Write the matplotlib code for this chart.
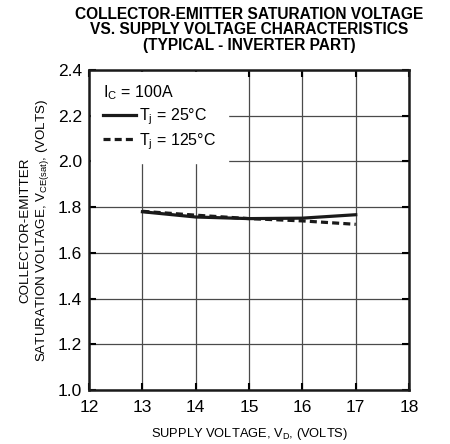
import numpy as np
import matplotlib.pyplot as plt

plt.rcParams['font.family'] = ['Liberation Sans', 'DejaVu Sans']
plt.rcParams['mathtext.fontset'] = 'custom'
plt.rcParams['mathtext.rm'] = 'Liberation Sans'
plt.rcParams['mathtext.it'] = 'Liberation Sans'

# supply voltage (V) and Vce(sat)
vd = [13, 14, 15, 16, 17]
vce_25 = [1.780, 1.757, 1.750, 1.752, 1.767]
vce_125 = [1.782, 1.765, 1.750, 1.740, 1.725]

x_ticks = [12, 13, 14, 15, 16, 17, 18]
y_ticks = [1.0, 1.2, 1.4, 1.6, 1.8, 2.0, 2.2, 2.4]

fig = plt.figure(figsize=(4.5, 4.44), dpi=100)
ax = fig.add_axes([0.198, 0.1216, 0.711, 0.7206])

ax.plot(vd, vce_25, '-', color='#1a1a1a', lw=2.3, label=r'T$_\mathregular{j}$ = 25°C', zorder=3)
ax.plot(vd, vce_125, '--', color='#1a1a1a', lw=2.3, dashes=(2.2, 1.3),
        label=r'T$_\mathregular{j}$ = 125°C', zorder=3)

ax.set_xlim(12, 18)
ax.set_ylim(1.0, 2.4)
ax.set_xticks(x_ticks)
ax.set_yticks(y_ticks)
ax.set_yticklabels(['%.1f' % v for v in y_ticks])
ax.grid(True, color='#4a4a4a', lw=0.9)
ax.tick_params(direction='in', length=5, width=1.5, top=True, right=True, labelsize=12.5)
ax.tick_params(axis='x', pad=7)
ax.tick_params(axis='y', pad=5)
for s in ax.spines.values():
    s.set_linewidth(1.8)
    s.set_color('#1a1a1a')

leg = ax.legend(loc='upper left', title=r'I$_\mathregular{C}$ = 100A', fontsize=11.5,
                title_fontsize=11.5, frameon=True, fancybox=False, edgecolor='white',
                facecolor='white', framealpha=1, handlelength=2.1, handletextpad=0.2,
                borderaxespad=0.15, borderpad=0.7, labelspacing=0.25, alignment='left')
leg.set_zorder(2)

ax.set_xlabel(r'SUPPLY VOLTAGE, V$_\mathregular{D}$, (VOLTS)', fontsize=9.3, labelpad=8)
ax.set_ylabel('COLLECTOR-EMITTER\nSATURATION VOLTAGE, V$_\\mathregular{CE(sat)}$, (VOLTS)',
              fontsize=9.6, labelpad=5, linespacing=1.25)

fig.text(0.553, 0.985, 'COLLECTOR-EMITTER SATURATION VOLTAGE\nVS. SUPPLY VOLTAGE CHARACTERISTICS\n(TYPICAL - INVERTER PART)',
         ha='center', va='top', fontsize=11.2, fontweight='bold', linespacing=1.05)

fig.savefig('out.png', dpi=100)
